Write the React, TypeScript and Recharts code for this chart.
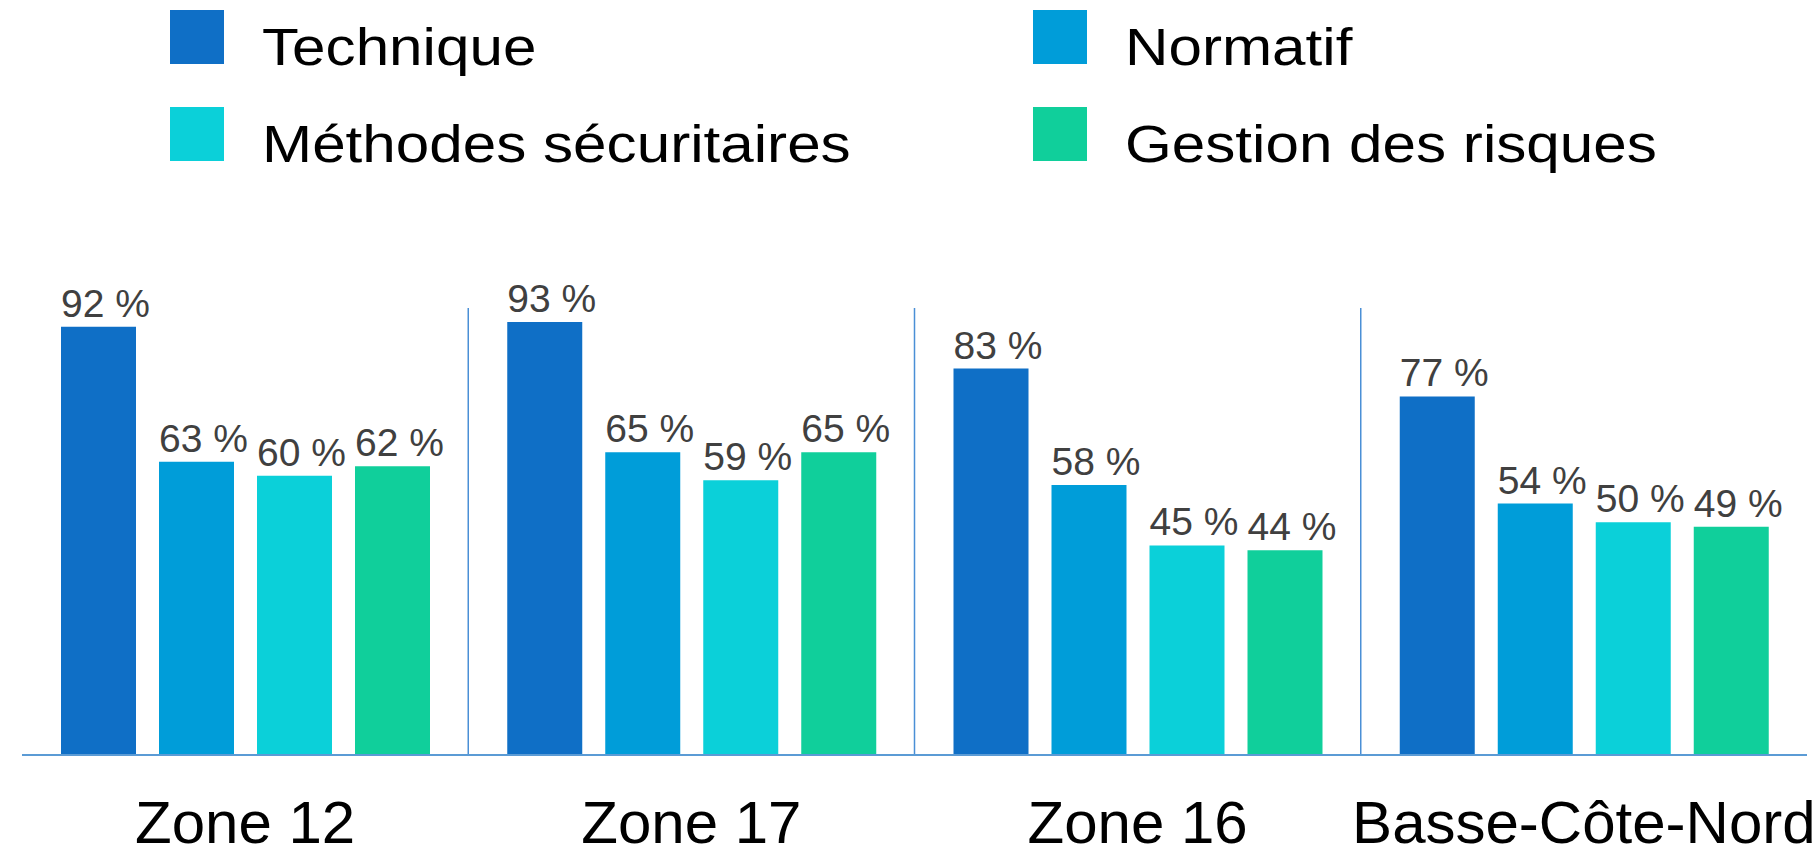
import React from 'react';
import { BarChart, Bar, XAxis, YAxis, CartesianGrid, Legend, LabelList } from 'recharts';

// Categories and series values
const zones = ['Zone 12', 'Zone 17', 'Zone 16', 'Basse-Côte-Nord'];
const technique = [92, 93, 83, 77];
const normatif = [63, 65, 58, 54];
const methodes = [60, 59, 45, 50];
const gestion = [62, 65, 44, 49];

const series = [
  { key: 'technique', name: 'Technique', color: '#0F6FC6' },
  { key: 'normatif', name: 'Normatif', color: '#009DD9' },
  { key: 'methodes', name: 'Méthodes sécuritaires', color: '#0BD0D9' },
  { key: 'gestion', name: 'Gestion des risques', color: '#10CF9B' },
];

const data = zones.map((zone, i) => ({
  zone,
  technique: technique[i],
  normatif: normatif[i],
  methodes: methodes[i],
  gestion: gestion[i],
}));

const sans = '"Liberation Sans", Arial, sans-serif';

function LegendGrid({ payload }: any) {
  const order = series.map((s) => s.name);
  const items = [...(payload || [])].sort((a: any, b: any) => order.indexOf(a.value) - order.indexOf(b.value));
  return (
    <div
      style={{
        display: 'grid',
        gridTemplateColumns: '863px auto',
        gridAutoRows: '97px',
        paddingLeft: 170,
        paddingTop: 10,
        fontFamily: sans,
        fontSize: 51,
        color: '#000',
      }}
    >
      {items.map((entry: any) => (
        <div key={entry.value} style={{ display: 'flex', alignItems: 'flex-start' }}>
          <span style={{ width: 54, height: 54, background: entry.color, display: 'inline-block', flex: 'none' }} />
          <span
            style={{
              marginLeft: 38,
              marginTop: 12,
              lineHeight: '51px',
              display: 'inline-block',
              whiteSpace: 'nowrap',
              transform: 'scaleX(1.18)',
              transformOrigin: 'left center',
            }}
          >
            {entry.value}
          </span>
        </div>
      ))}
    </div>
  );
}

// separators sit on the boundaries between category bands
const bandBoundaries = ({ offset }: any) => {
  if (!offset) return [];
  const band = offset.width / zones.length;
  return zones.slice(1).map((_, i) => offset.left + (i + 1) * band);
};

function App() {
  return (
    <div style={{ position: 'absolute', left: 0, top: 0, background: '#fff' }}>
      <BarChart
        width={1818}
        height={856}
        data={data}
        margin={{ top: 308, right: 11, left: 22, bottom: 0 }}
        barSize={75}
        barGap={23}
      >
        <CartesianGrid
          horizontal={false}
          stroke="#4A8FD6"
          strokeWidth={1.5}
          verticalCoordinatesGenerator={bandBoundaries}
        />
        <XAxis
          dataKey="zone"
          height={101}
          axisLine={{ stroke: '#5B9BD5', strokeWidth: 2 }}
          tickLine={false}
          tickMargin={39}
          tick={{ fill: '#000', fontSize: 60, fontFamily: sans }}
          interval={0}
        />
        <YAxis hide domain={[0, 96]} />
        <Legend
          layout="horizontal"
          verticalAlign="middle"
          wrapperStyle={{ top: 0, left: 0, width: 1818 }}
          content={<LegendGrid />}
        />
        {series.map((s) => (
          <Bar key={s.key} dataKey={s.key} name={s.name} fill={s.color} isAnimationActive={false}>
            <LabelList
              dataKey={s.key}
              position="top"
              offset={10}
              dx={7}
              formatter={(v: any) => `${v} %`}
              fill="#404040"
              fontSize={39}
              fontFamily={sans}
            />
          </Bar>
        ))}
      </BarChart>
    </div>
  );
}

export default App;
